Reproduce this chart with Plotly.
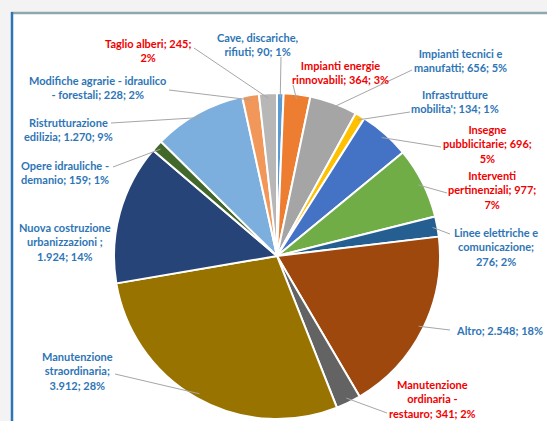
import math
import plotly.graph_objects as go

# ---------------- data ----------------
categories = [
    "Cave, discariche, rifiuti", "Impianti energie rinnovabili", "Impianti tecnici e manufatti",
    "Infrastrutture mobilita'", "Insegne pubblicitarie", "Interventi pertinenziali",
    "Linee elettriche e comunicazione", "Altro", "Manutenzione ordinaria - restauro",
    "Manutenzione straordinaria", "Nuova costruzione urbanizzazioni", "Opere idrauliche - demanio",
    "Ristrutturazione edilizia", "Modifiche agrarie - idraulico - forestali", "Taglio alberi",
]
values = [90, 364, 656, 134, 696, 977, 276, 2548, 341, 3912, 1924, 159, 1270, 228, 245]

# label texts as they are wrapped in the chart
label_lines = [
    ["Cave, discariche,", "rifiuti; {v}; {p}"],
    ["Impianti energie", "rinnovabili; {v}; {p}"],
    ["Impianti tecnici e", "manufatti; {v}; {p}"],
    ["Infrastrutture", "mobilita'; {v}; {p}"],
    ["Insegne", "pubblicitarie; {v};", "{p}"],
    ["Interventi", "pertinenziali; {v};", "{p}"],
    ["Linee elettriche e", "comunicazione;", "{v}; {p}"],
    ["Altro; {v}; {p}"],
    ["Manutenzione", "ordinaria -", "restauro; {v}; {p}"],
    ["Manutenzione", "straordinaria;", "{v}; {p}"],
    ["Nuova costruzione", "urbanizzazioni ;", "{v}; {p}"],
    ["Opere idrauliche -", "demanio; {v}; {p}"],
    ["Ristrutturazione", "edilizia; {v}; {p}"],
    ["Modifiche agrarie - idraulico", "- forestali; {v}; {p}"],
    ["Taglio alberi; {v};", "{p}"],
]

# ---------------- style / layout ----------------
slice_colors = ["#5B9BD5", "#ED7D31", "#A5A5A5", "#FFC000", "#4472C4", "#70AD47", "#255E91",
                "#9E480E", "#636363", "#997300", "#264478", "#43682B", "#7CAFDD", "#F1975A", "#B7B7B7"]
BLUE, RED = "#2E75B6", "#F00000"
label_colors = [BLUE, RED, BLUE, BLUE, RED, RED, BLUE, BLUE, RED, BLUE, BLUE, BLUE, BLUE, BLUE, RED]

# label centre (px) and leader attach point (px); None = no leader
label_pos = [(258, 44), (340, 72), (460, 60), (455, 101), (487, 144), (492, 190), (496, 247),
             (499, 330), (432, 399), (78, 371), (65, 242), (65, 172), (68, 129), (97, 87), (148, 51)]
attach_pos = [(281, 57), (293, 85), (412, 70), (410, 112), (441, 147), (447, 193), (450, 234),
              (450, 330), (387, 413), (115, 374), None, (113, 167), (111, 123), (169, 90), (194, 48)]

W, H = 547, 421
CX, CY, R = 277, 256, 163


def fmt_it(n):
    return f"{n:,}".replace(",", ".")


total = sum(values)

fig = go.Figure(go.Pie(
    values=values, labels=categories, sort=False, direction="clockwise", rotation=0,
    marker=dict(colors=slice_colors, line=dict(color="white", width=2)),
    textinfo="none", showlegend=False,
    domain=dict(x=[(CX - R) / W, (CX + R) / W], y=[(H - CY - R) / H, (H - CY + R) / H]),
))

shapes = [
    dict(type="rect", xref="paper", yref="paper", x0=12 / W, x1=1.02, y0=-0.02, y1=1 - 13 / H,
         fillcolor="white", line=dict(width=0), layer="below"),
    dict(type="line", xref="paper", yref="paper", x0=11 / W, x1=1.02, y0=1 - 13 / H, y1=1 - 13 / H,
         line=dict(color="#8FA7B1", width=2.5), layer="below"),
    dict(type="line", xref="paper", yref="paper", x0=12 / W, x1=12 / W, y0=-0.02, y1=1 - 12 / H,
         line=dict(color="#2E75B6", width=2.5), layer="below"),
]

annotations = []
cum = 0
for i, v in enumerate(values):
    theta = 2 * math.pi * (cum + v / 2) / total
    cum += v
    pct = f"{round(v / total * 100)}%"
    txt = "<br>".join(s.format(v=fmt_it(v), p=pct) for s in label_lines[i])
    lx, ly = label_pos[i]
    annotations.append(dict(
        x=lx / W, y=1 - ly / H, xref="paper", yref="paper", text=txt, showarrow=False,
        xanchor="center", yanchor="middle", align="center",
        font=dict(family="Lato, Carlito, Calibri, sans-serif", size=11, color=label_colors[i],
                  weight="bold"),
    ))
    if attach_pos[i] is not None:
        ax = CX + R * 0.97 * math.sin(theta)
        ay = CY - R * 0.97 * math.cos(theta)
        tx, ty = attach_pos[i]
        shapes.append(dict(type="line", xref="paper", yref="paper",
                           x0=ax / W, y0=1 - ay / H, x1=tx / W, y1=1 - ty / H,
                           line=dict(color="#A6A6A6", width=1)))

fig.update_layout(
    width=W, height=H, margin=dict(l=0, r=0, t=0, b=0),
    paper_bgcolor="#F3F3F3", plot_bgcolor="#F3F3F3",
    shapes=shapes, annotations=annotations,
)

fig.write_html("out.html", config={"displayModeBar": False},
               post_script="document.body.style.margin='0';document.body.style.overflow='hidden';")
